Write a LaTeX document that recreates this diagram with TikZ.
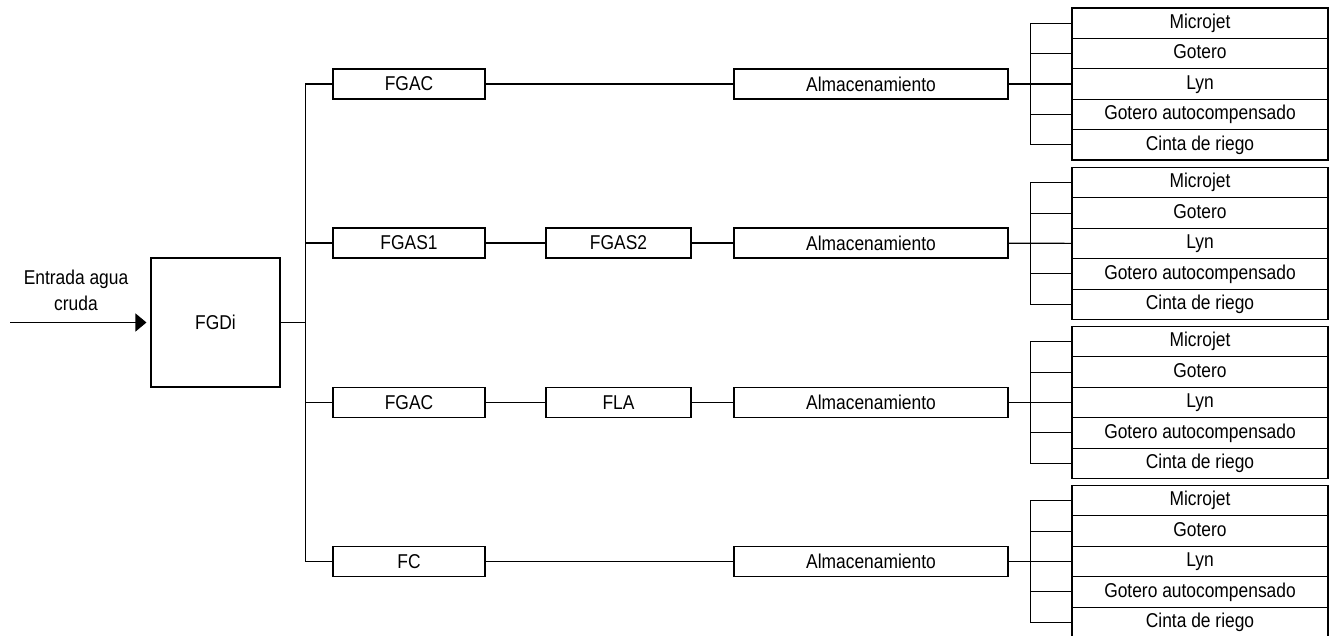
\documentclass[tikz,border=0pt]{standalone}
\usepackage{fontspec}
\setmainfont[FakeStretch=0.87]{Liberation Sans}
\usetikzlibrary{matrix,positioning,arrows.meta}

\begin{document}
\begin{tikzpicture}[x=1pt,y=-1pt,line width=1.1pt,
    every node/.style={font=\fontsize{20}{26}\selectfont},
    box/.style={draw,inner sep=0,minimum height=30},
    lista/.style={matrix of nodes,nodes={draw,inner sep=0,anchor=center,
        text height=14.5pt,text depth=4pt,minimum width=256,minimum height=30.4},
        row sep=-1.1pt}]
  \useasboundingbox (0,0) rectangle (1330,635);
  % entrada y FGDi
  \node[draw,minimum size=129] (fgdi) at (215.5,322.5) {FGDi};
  \node[align=center] (entrada) at (76,290) {Entrada agua\\cruda};
  \coordinate (entra) at (10,322.5);
  \coordinate (bus) at (306,322.5);
  \draw[-{Triangle[length=11pt,width=18pt]},shorten >=4pt] (entra) -- (fgdi.west);
  \draw (fgdi) -- (bus);
  % lineas de tratamiento
  \node[box,minimum width=152] (fgac1) at (409,84) {FGAC};
  \node[box,minimum width=274] (alm1) at (871,84) {Almacenamiento};
  \node[box,minimum width=152] (fgas1) at (409,243) {FGAS1};
  \node[box,minimum width=145] (fgas2) at (618.5,243) {FGAS2};
  \node[box,minimum width=274] (alm2) at (871,243) {Almacenamiento};
  \node[box,minimum width=152] (fgac2) at (409,402.5) {FGAC};
  \node[box,minimum width=145] (fla) at (618.5,402.5) {FLA};
  \node[box,minimum width=274] (alm3) at (871,402.5) {Almacenamiento};
  \node[box,minimum width=152] (fc) at (409,561.5) {FC};
  \node[box,minimum width=274] (alm4) at (871,561.5) {Almacenamiento};
  \draw (fgac1.west) -- ++(-27,0) |- (fc.west);
  \draw (fgas1.west) -- ++(-27,0);
  \draw (fgac2.west) -- ++(-27,0);
  \draw (fgac1) -- (alm1);
  \draw (fgas1) -- (fgas2);
  \draw (fgas2) -- (alm2);
  \draw (fgac2) -- (fla);
  \draw (fla) -- (alm3);
  \draw (fc) -- (alm4);
  % emisores
  \matrix (emis1) [lista] at (1200,84) {
    Microjet \\ Gotero \\ Lyn \\ Gotero autocompensado \\ Cinta de riego \\
  };
  \matrix (emis2) [lista] at (1200,243.5) {
    Microjet \\ Gotero \\ Lyn \\ Gotero autocompensado \\ Cinta de riego \\
  };
  \matrix (emis3) [lista] at (1200,402.5) {
    Microjet \\ Gotero \\ Lyn \\ Gotero autocompensado \\ Cinta de riego \\
  };
  \matrix (emis4) [lista] at (1200,561.5) {
    Microjet \\ Gotero \\ Lyn \\ Gotero autocompensado \\ Cinta de riego \\
  };
  \draw (alm1) -- (emis1-3-1);
  \draw (emis1-1-1.west) -- ++(-41,0) |- (emis1-5-1.west);
  \draw (emis1-2-1.west) -- ++(-41,0);
  \draw (emis1-4-1.west) -- ++(-41,0);
  \draw (alm2) -- (emis2-3-1);
  \draw (emis2-1-1.west) -- ++(-41,0) |- (emis2-5-1.west);
  \draw (emis2-2-1.west) -- ++(-41,0);
  \draw (emis2-4-1.west) -- ++(-41,0);
  \draw (alm3) -- (emis3-3-1);
  \draw (emis3-1-1.west) -- ++(-41,0) |- (emis3-5-1.west);
  \draw (emis3-2-1.west) -- ++(-41,0);
  \draw (emis3-4-1.west) -- ++(-41,0);
  \draw (alm4) -- (emis4-3-1);
  \draw (emis4-1-1.west) -- ++(-41,0) |- (emis4-5-1.west);
  \draw (emis4-2-1.west) -- ++(-41,0);
  \draw (emis4-4-1.west) -- ++(-41,0);
\end{tikzpicture}
\end{document}
